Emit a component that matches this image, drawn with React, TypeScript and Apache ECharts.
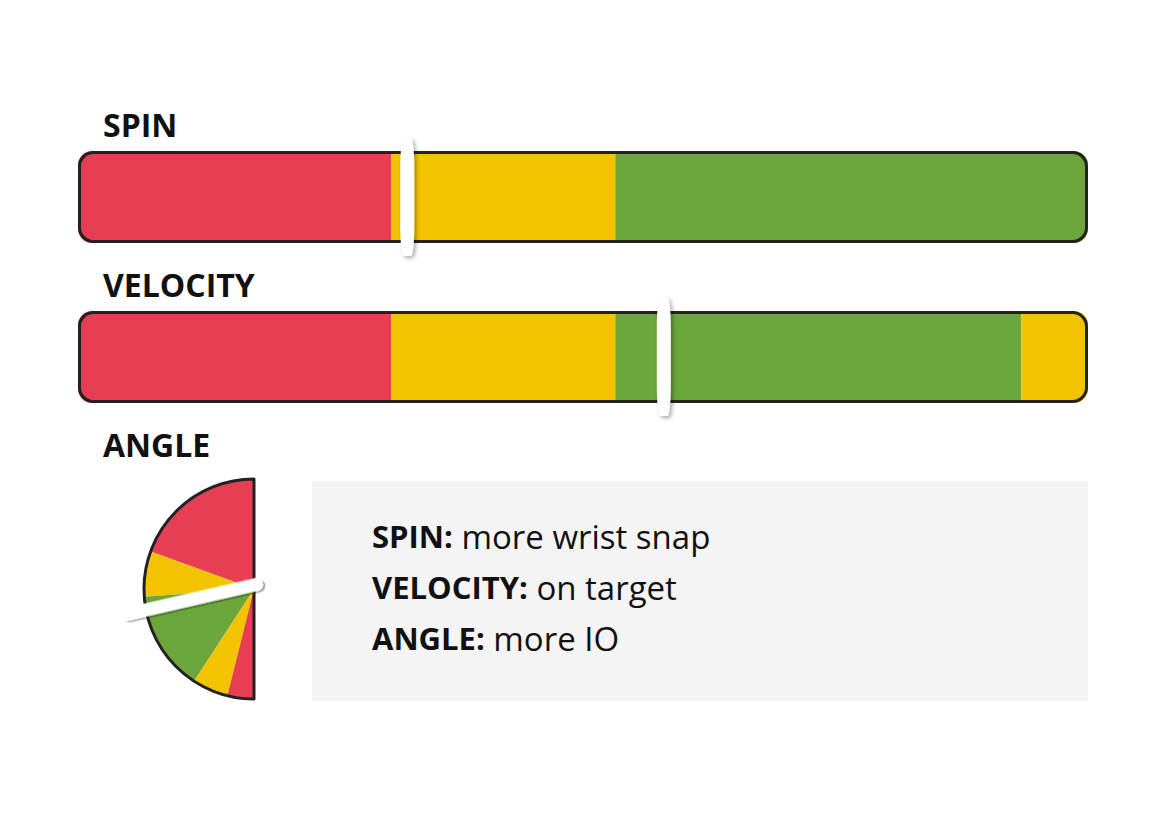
import React, { useEffect, useRef } from "react";
import * as echarts from "echarts";

const RED = "#E63E52";
const YELLOW = "#F3C300";
const GREEN = "#6BA53B";
const BORDER = "#222222";
const FONT = "'Open Sans', 'Noto Sans', sans-serif";

// Bars: zone widths on a 0–100 scale
const spinZones = [31, 22.2, 46.8];
const spinZoneColors = [RED, YELLOW, GREEN];
const spinValue = 32.6;

const velocityZones = [31, 22.2, 40.2, 6.6];
const velocityZoneColors = [RED, YELLOW, GREEN, YELLOW];
const velocityValue = 58;

// Angle half-dial: zone spans in degrees (top -> bottom, via the left)
const angleZones = [70, 24, 53, 19, 14];
const angleZoneColors = [RED, YELLOW, GREEN, YELLOW, RED];
const angleValue = 103;

const titles = ["SPIN", "VELOCITY", "ANGLE"];
const notes = [
  ["SPIN:", "more wrist snap"],
  ["VELOCITY:", "on target"],
  ["ANGLE:", "more IO"],
];

const MARKER_STYLE = {
  color: "#ffffff",
  opacity: 1,
  shadowBlur: 4,
  shadowColor: "rgba(0,0,0,0.35)",
  shadowOffsetX: 2,
  shadowOffsetY: 2,
};

function barSeries(gridIndex: number, zones: number[], colors: string[], value: number) {
  const out: any[] = [];
  zones.forEach((z, i) => {
    const first = i === 0;
    const last = i === zones.length - 1;
    out.push({
      type: "bar",
      xAxisIndex: gridIndex,
      yAxisIndex: gridIndex,
      stack: "zones" + gridIndex,
      barWidth: "100%",
      silent: true,
      z: 2,
      itemStyle: {
        color: colors[i],
        borderRadius: [first ? 14 : 0, last ? 14 : 0, last ? 14 : 0, first ? 14 : 0],
      },
      data: [z],
    });
  });
  out.push({
    type: "bar",
    xAxisIndex: gridIndex,
    yAxisIndex: gridIndex,
    barWidth: "100%",
    barGap: "-100%",
    silent: true,
    z: 3,
    itemStyle: {
      color: "rgba(0,0,0,0)",
      borderColor: BORDER,
      borderWidth: 3,
      borderRadius: 14,
    },
    data: [zones.reduce((a, b) => a + b, 0)],
  });
  out.push({
    type: "scatter",
    xAxisIndex: gridIndex,
    yAxisIndex: gridIndex,
    symbol: "roundRect",
    symbolSize: [14, 118],
    clip: false,
    silent: true,
    z: 5,
    itemStyle: MARKER_STYLE,
    data: [[value, 0]],
  });
  return out;
}

export default function App() {
  const ref = useRef<HTMLDivElement>(null);
  useEffect(() => {
    const chart = echarts.init(ref.current!, null, { renderer: "svg" });
    const grids = [
      { left: 78, top: 151, width: 1010, height: 92 },
      { left: 78, top: 311, width: 1010, height: 92 },
    ];
    const xAxis = grids.map((_, i) => ({
      type: "value",
      gridIndex: i,
      min: 0,
      max: 100,
      show: false,
    }));
    const yAxis = grids.map((_, i) => ({
      type: "category",
      gridIndex: i,
      data: [titles[i]],
      show: false,
    }));

    const pieCenter = [254, 589];
    const pieR = 110;
    const pivot = [254, 585];

    const option: any = {
      animation: false,
      grid: grids,
      xAxis,
      yAxis,
      graphic: [
        ...titles.map((t, i) => ({
          type: "text",
          left: 103,
          top: [108, 268, 428][i],
          style: {
            text: t,
            font: `bold 32px ${FONT}`,
            fill: "#111111",
          },
        })),
        {
          type: "rect",
          shape: { x: 312, y: 481, width: 776, height: 220 },
          style: { fill: "#F4F4F4" },
          z: -10,
        },
        ...notes.map((n, i) => ({
          type: "text",
          x: 372,
          y: [536, 587, 638][i],
          style: {
            text: `{b|${n[0]}}{r| ${n[1]}}`,
            verticalAlign: "middle",
            rich: {
              b: { font: `bold 31px ${FONT}`, fill: "#111111" },
              r: { font: `33px ${FONT}`, fill: "#111111" },
            },
          },
        })),
      ],
      series: [
        ...barSeries(0, spinZones, spinZoneColors, spinValue),
        ...barSeries(1, velocityZones, velocityZoneColors, velocityValue),
        {
          type: "pie",
          center: pieCenter,
          radius: pieR,
          startAngle: 90,
          clockwise: false,
          silent: true,
          label: { show: false },
          labelLine: { show: false },
          z: 2,
          data: [
            ...angleZones.map((v, i) => ({ value: v, itemStyle: { color: angleZoneColors[i] } })),
            { value: 180, itemStyle: { color: "rgba(0,0,0,0)" } },
          ],
        },
        {
          type: "pie",
          center: pieCenter,
          radius: pieR,
          startAngle: 90,
          clockwise: false,
          silent: true,
          label: { show: false },
          labelLine: { show: false },
          z: 3,
          data: [
            { value: 180, itemStyle: { color: "rgba(0,0,0,0)", borderColor: BORDER, borderWidth: 3 } },
            { value: 180, itemStyle: { color: "rgba(0,0,0,0)", borderWidth: 0 } },
          ],
        },
        {
          type: "custom",
          coordinateSystem: "none",
          silent: true,
          z: 6,
          data: [[angleValue]],
          renderItem: (params: any, api: any) => {
            const v = api.value(0);
            // angle measured from the top, counter-clockwise, over a half circle (0–180)
            const rot = ((90 + v) * Math.PI) / 180;
            return {
              type: "rect",
              x: pivot[0],
              y: pivot[1],
              rotation: rot,
              shape: { x: -9, y: -6.5, width: 146, height: 13, r: 6.5 },
              style: {
                fill: "#ffffff",
                shadowBlur: 4,
                shadowColor: "rgba(0,0,0,0.35)",
                shadowOffsetX: 2,
                shadowOffsetY: 2,
              },
            };
          },
        },
      ],
    };
    chart.setOption(option);
    return () => chart.dispose();
  }, []);
  return <div ref={ref} style={{ width: 1170, height: 816, margin: -8 }} />;
}
